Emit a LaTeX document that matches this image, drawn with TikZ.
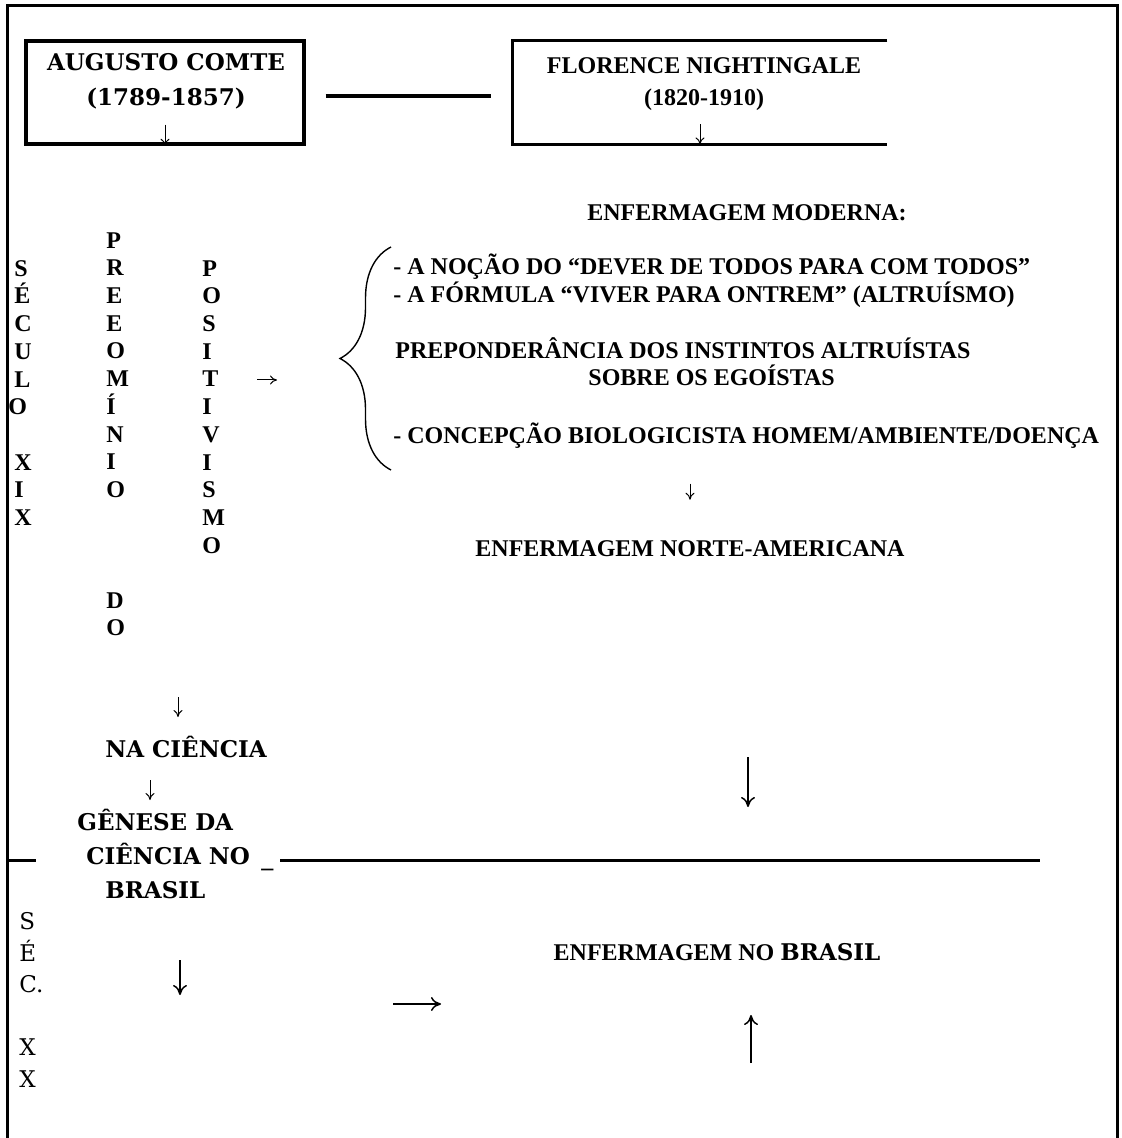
\documentclass[tikz,border=0pt]{standalone}
\usepackage{fontspec}
\usepackage{tikz}
\usetikzlibrary{arrows.meta,positioning,decorations.pathreplacing}
\newfontfamily\timesfont{Liberation Serif}
\newfontfamily\centfont{DejaVu Serif}

\begin{document}
\begin{tikzpicture}[x=0.5pt,y=-0.5pt,
  tnr/.style={font=\fontsize{12}{13.85}\selectfont\timesfont\bfseries,inner sep=0pt},
  cent/.style={font=\fontsize{11.5}{17}\selectfont\centfont\bfseries,inner sep=0pt},
  secx/.style={font=\fontsize{11.5}{15.75}\selectfont\centfont,inner sep=0pt},
  blk/.style={draw,line width=1.7pt,inner sep=0pt},
  arr/.style={-{To[length=3.5pt,width=4.5pt]},line width=0.5pt},
  bigarr/.style={-{To[length=5pt,width=7pt]},line width=0.75pt}]
\useasboundingbox (0,0) rectangle (1121,1138);
% moldura
\draw[line width=1.5pt] (7.5,1138) -- (7.5,5.5) -- (1117,5.5) -- (1117,1138);

% caixas do topo
\node[blk,minimum width=139pt,minimum height=51.5pt] (comte) at (165,92.5) {};
\node[cent,anchor=north,align=center] (comtetxt) at (166,53) {AUGUSTO COMTE\\[0.5pt](1789-1857)};
\node[inner sep=0pt,minimum width=187pt,minimum height=51.5pt] (flo) at (700,92.5) {};
\draw[line width=1.7pt] (flo.north east) -- (flo.north west) -- (flo.south west) -- (flo.south east);
\node[tnr,anchor=north,align=center] (flotxt) at (704,57) {FLORENCE NIGHTINGALE\\[2.15pt](1820-1910)};
\draw[line width=1.7pt] ([shift={(10pt,-1.75pt)}]comte.east) -- ([shift={(-11pt,-1.75pt)}]flo.west);
\draw[arr] ([yshift=10.5pt]comte.south) -- (comte.south);
\draw[arr] ([yshift=10pt]flo.south) -- (flo.south);

% colunas verticais
\node[tnr,anchor=north west,align=left] (seculo) at (14,260) {S\\É\\C\\U\\L\\\hspace*{-3pt}O\\[13.85pt]X\\I\\X};
\node[tnr,anchor=north west,align=left] (predom) at (106,232) {P\\R\\E\\E\\O\\M\\Í\\N\\I\\O\\[41.55pt]D\\O};
\node[tnr,anchor=north west,align=left] (posit) at (202,260) {P\\O\\S\\I\\T\\I\\V\\I\\S\\M\\O};
\coordinate (posarr) at (257,380);
\draw[arr] (posarr) -- ++(20,0);

% enfermagem moderna
\node[tnr,anchor=base] (moderna) at (747,221) {ENFERMAGEM MODERNA:};
\coordinate (brbot) at (391,470);
\coordinate (brtop) at (391,247);
\draw[decorate,decoration={brace,amplitude=25.5pt},line width=0.7pt] (brbot) -- (brtop);
\node[tnr,anchor=base west] (dever) at (393,275) {- A NOÇÃO DO “DEVER DE TODOS PARA COM TODOS”};
\node[tnr,anchor=base west] (formula) at (393,303) {- A FÓRMULA “VIVER PARA ONTREM” (ALTRUÍSMO)};
\node[tnr,anchor=base west] (prepond) at (395,359) {PREPONDERÂNCIA DOS INSTINTOS ALTRUÍSTAS};
\node[tnr,anchor=base west] (sobre) at (588,386) {SOBRE OS EGOÍSTAS};
\node[tnr,anchor=base west] (concep) at (393,443) {- CONCEPÇÃO BIOLOGICISTA HOMEM/AMBIENTE/DOENÇA};
\node[tnr,anchor=base] (norte) at (690,556) {ENFERMAGEM NORTE-AMERICANA};
\draw[arr] ([yshift=28pt]norte.north) -- ++(0,16);

% ciencia
\coordinate (d1) at (178,697);
\draw[arr] (d1) -- ++(0,20);
\node[cent,anchor=base] (naciencia) at (186,757.5) {NA CIÊNCIA};
\coordinate (d2) at (150,780);
\draw[arr] (d2) -- ++(0,20);
\node[cent,anchor=north west,align=left] (genese) at (77,809) {GÊNESE DA\\\hspace*{4.5pt}CIÊNCIA NO\\\hspace*{14pt}BRASIL};
\node[tnr,anchor=base west] (gap) at (261,867.5) {\_};

% divisoria
\coordinate (divl) at (7.5,860);
\coordinate (divm) at (280,860);
\coordinate (divr) at (1040,860);
\draw[line width=1.5pt] (divl) -- ++(28,0);
\draw[line width=1.5pt] (divm) -- (divr);
\coordinate (d3) at (748,757);
\draw[bigarr] (d3) -- ++(0,50);

% seculo xx
\node[secx,anchor=north west,align=left] (secxx) at (19,912.5) {S\\É\\C.\\[15.75pt]X\\X};
\coordinate (d4) at (180,960);
\draw[bigarr] (d4) -- ++(0,35);
\coordinate (r1) at (393,1004);
\draw[bigarr] (r1) -- ++(48,0);
\node[tnr,anchor=base] (brasil) at (717,960) {ENFERMAGEM NO {\fontsize{11.5}{13}\selectfont\centfont\bfseries BRASIL}};
\coordinate (u1) at (751,1063);
\draw[bigarr] (u1) -- ++(0,-48);
\end{tikzpicture}
\end{document}
